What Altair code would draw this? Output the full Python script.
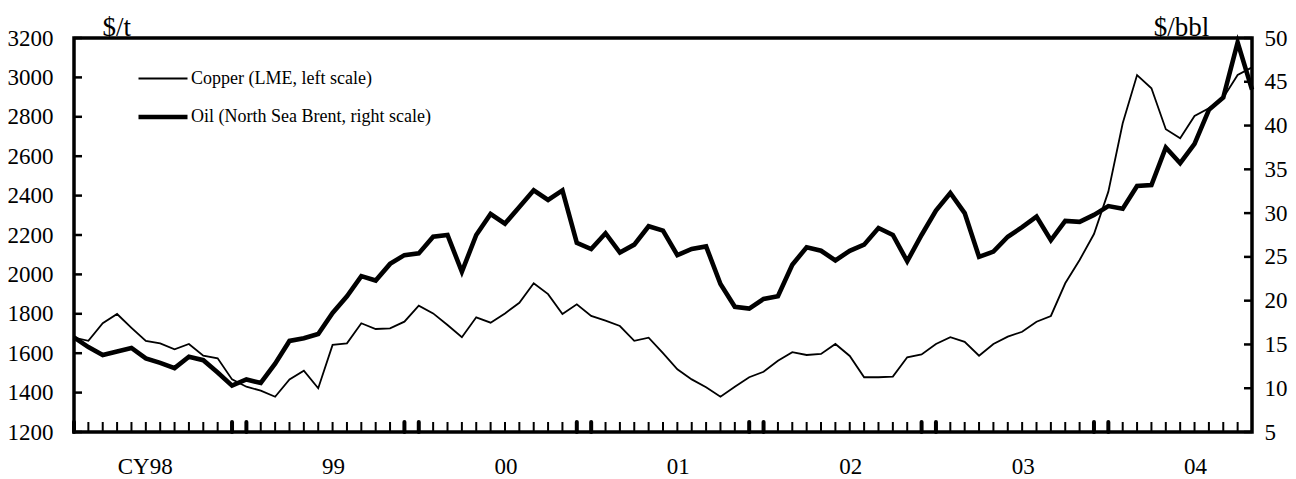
import altair as alt
import pandas as pd

# ---------------- data ----------------
months = list(range(83))  # Jan 1998 .. Nov 2004, monthly
copper = [1679, 1663, 1752, 1799, 1729, 1662, 1650, 1620, 1647, 1587, 1574, 1467,
          1430, 1410, 1379, 1467, 1511, 1422, 1642, 1650, 1752, 1723, 1726, 1760,
          1841, 1802, 1743, 1681, 1782, 1755, 1802, 1856, 1955, 1900, 1799, 1848,
          1789, 1765, 1738, 1663, 1679, 1600, 1518, 1467, 1427, 1379, 1430, 1478,
          1506, 1562, 1605, 1591, 1596, 1647, 1586, 1478, 1478, 1481, 1579, 1594,
          1647, 1681, 1658, 1587, 1647, 1684, 1709, 1760, 1789, 1955, 2073, 2205,
          2420, 2767, 3012, 2945, 2737, 2691, 2804, 2843, 2897, 3012, 3051]
oil = [15.8, 14.7, 13.8, 14.2, 14.6, 13.4, 12.9, 12.3, 13.6, 13.2, 11.8, 10.3,
       11.0, 10.6, 12.8, 15.4, 15.7, 16.2, 18.6, 20.5, 22.8, 22.3, 24.2, 25.2,
       25.4, 27.3, 27.5, 23.3, 27.5, 29.9, 28.8, 30.7, 32.6, 31.5, 32.6, 26.6,
       25.9, 27.7, 25.5, 26.4, 28.5, 28.0, 25.2, 25.9, 26.2, 21.9, 19.3, 19.1,
       20.2, 20.5, 24.1, 26.1, 25.7, 24.6, 25.7, 26.4, 28.3, 27.5, 24.5, 27.5,
       30.3, 32.3, 30.0, 25.0, 25.6, 27.3, 28.4, 29.6, 26.9, 29.1, 29.0, 29.8,
       30.8, 30.5, 33.1, 33.2, 37.5, 35.7, 37.9, 41.8, 43.2, 49.5, 44.1]
series_names = ["Copper (LME, left scale)", "Oil (North Sea Brent, right scale)"]
year_labels = ["CY98", "99", "00", "01", "02", "03", "04"]
year_label_months = [6, 18, 30, 42, 54, 66, 78]
thick_tick_months = [0, 11, 12, 23, 24, 35, 36, 47, 48, 59, 60, 71, 72]
copper_ticks = list(range(1200, 3201, 200))
oil_ticks = list(range(5, 51, 5))

# ---------------- styling ----------------
W, H = 1178, 394
FONT = "Liberation Serif"
TICK_FS = 23
TITLE_FS = 27

df_cu = pd.DataFrame({"month": months, "value": copper, "series": series_names[0]})
df_oil = pd.DataFrame({"month": months, "value": oil, "series": series_names[1]})
df_thin = pd.DataFrame({"month": [m for m in months if m not in thick_tick_months]})
df_thick = pd.DataFrame({"month": thick_tick_months})
df_cu_ticks = pd.DataFrame({"v": copper_ticks})
df_oil_ticks = pd.DataFrame({"v": oil_ticks})

x_scale = alt.Scale(domain=[months[0], months[-1]], nice=False, zero=False)
cu_scale = alt.Scale(domain=[copper_ticks[0], copper_ticks[-1]], nice=False, zero=False)
oil_scale = alt.Scale(domain=[oil_ticks[0], oil_ticks[-1]], nice=False, zero=False)
sw_scale = alt.Scale(domain=series_names, range=[1.8, 4.6])

label_expr = " : ".join(
    f"datum.value == {m} ? '{t}'" for m, t in zip(year_label_months, year_labels)
) + " : ''"

x_axis = alt.Axis(values=year_label_months, labelExpr=label_expr, ticks=False,
                  domain=False, grid=False, labelFont=FONT, labelFontSize=TICK_FS,
                  labelColor="black", labelPadding=23, labelAlign="right",
                  labelOffset=12, title=None)
left_axis = alt.Axis(orient="left", values=copper_ticks, format="d", ticks=False,
                     domain=False, grid=False, labelFont=FONT, labelFontSize=TICK_FS,
                     labelColor="black", labelPadding=21, title="$/t", titleAngle=0,
                     titleAlign="left", titleBaseline="alphabetic", titleX=28,
                     titleY=-3, titleFont=FONT, titleFontSize=TITLE_FS,
                     titleFontWeight="normal", titleColor="black")
right_axis = alt.Axis(orient="right", values=oil_ticks, format="d", ticks=False,
                      domain=False, grid=False, labelFont=FONT, labelFontSize=TICK_FS,
                      labelColor="black", labelPadding=12, title="$/bbl",
                      titleAngle=0, titleAlign="center", titleBaseline="alphabetic",
                      titleX=-71, titleY=-3, titleFont=FONT, titleFontSize=TITLE_FS,
                      titleFontWeight="normal", titleColor="black")

legend = alt.Legend(orient="none", legendX=62, legendY=15, title=None,
                    symbolType="stroke", symbolSize=2401, symbolStrokeColor="black",
                    labelFont=FONT, labelFontSize=18, labelColor="black",
                    labelOffset=1, labelLimit=600, rowPadding=2, padding=0)

copper_line = alt.Chart(df_cu).mark_line(color="black").encode(
    x=alt.X("month:Q", scale=x_scale, axis=x_axis),
    y=alt.Y("value:Q", scale=cu_scale, axis=left_axis),
    strokeWidth=alt.StrokeWidth("series:N", scale=sw_scale, legend=legend),
)
left_ticks = alt.Chart(df_cu_ticks).mark_rule(color="black", strokeWidth=2.5).encode(
    y=alt.Y("v:Q", scale=cu_scale, axis=left_axis), x=alt.value(0), x2=alt.value(8))
thin_ticks = alt.Chart(df_thin).mark_rule(color="black", strokeWidth=2).encode(
    x=alt.X("month:Q", scale=x_scale, axis=x_axis), y=alt.value(H), y2=alt.value(H - 10))
thick_ticks = alt.Chart(df_thick).mark_rule(color="black", strokeWidth=4, strokeCap="round").encode(
    x=alt.X("month:Q", scale=x_scale, axis=x_axis), y=alt.value(H), y2=alt.value(H - 10))

oil_line = alt.Chart(df_oil).mark_line(color="black").encode(
    x=alt.X("month:Q", scale=x_scale, axis=x_axis),
    y=alt.Y("value:Q", scale=oil_scale, axis=right_axis),
    strokeWidth=alt.StrokeWidth("series:N", scale=sw_scale, legend=legend),
)
right_ticks = alt.Chart(df_oil_ticks).mark_rule(color="black", strokeWidth=2.5).encode(
    y=alt.Y("v:Q", scale=oil_scale, axis=right_axis), x=alt.value(W - 8), x2=alt.value(W))

left_group = alt.layer(copper_line, left_ticks, thin_ticks, thick_ticks)
right_group = alt.layer(oil_line, right_ticks)

chart = (
    alt.layer(left_group, right_group)
    .resolve_scale(y="independent")
    .properties(width=W, height=H, autosize="none",
                padding={"left": 66, "top": 30, "right": 36, "bottom": 47})
    .configure_view(stroke="black", strokeWidth=3.5)
)

chart.save("out.html", embed_options={"renderer": "svg", "actions": False})
